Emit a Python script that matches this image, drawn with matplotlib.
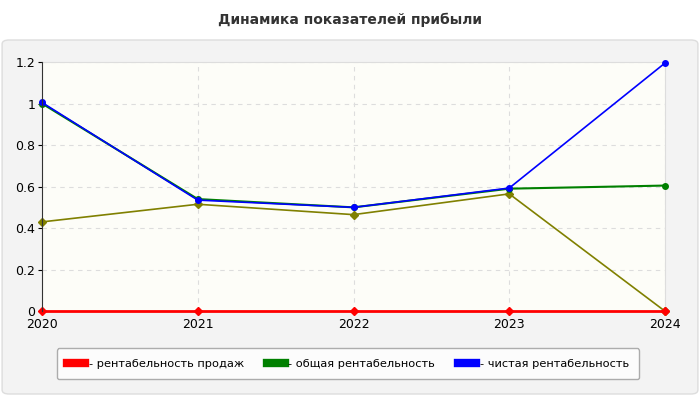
import matplotlib
matplotlib.use("Agg")
import matplotlib.pyplot as plt
from matplotlib.patches import FancyBboxPatch

years = ["2020", "2021", "2022", "2023", "2024"]
sales = [0, 0, 0, 0, 0]
total = [1.0, 0.54, 0.5, 0.59, 0.605]
net = [1.005, 0.535, 0.5, 0.593, 1.195]
other = [0.43, 0.515, 0.465, 0.565, 0.0]

fig = plt.figure(figsize=(7, 4), dpi=100)
fig.patch.set_facecolor("white")
fig.patches.append(FancyBboxPatch((0.003, 0.015), 0.994, 0.885, boxstyle="round,pad=0,rounding_size=0.01",
                                  transform=fig.transFigure, facecolor="#f3f3f3", edgecolor="#dddddd", zorder=-10))
fig.text(0.5, 0.95, "Динамика показателей прибыли", ha="center", va="center", fontsize=10, fontweight="bold", color="#333333")

ax = fig.add_axes([0.06, 0.222, 0.89, 0.623])
ax.set_facecolor("#fdfdf8")
x = range(len(years))
ax.plot(x, other, color="#808000", lw=1.2, marker="D", ms=4, zorder=3, clip_on=False)
ax.plot(x, sales, color="#ff0000", lw=2, marker="D", ms=4, label="- рентабельность продаж", zorder=4, clip_on=False)
ax.plot(x, total, color="#008000", lw=1.5, marker="o", ms=4, label="- общая рентабельность", zorder=4, clip_on=False)
ax.plot(x, net, color="#0000ff", lw=1.2, marker="o", ms=4, label="- чистая рентабельность", zorder=5, clip_on=False)
ax.set_xlim(0, 4)
ax.set_ylim(0, 1.2)
ax.set_xticks(list(x))
ax.set_xticklabels(years)
ax.set_yticks([0, 0.2, 0.4, 0.6, 0.8, 1.0, 1.2])
ax.set_yticklabels(["0", "0.2", "0.4", "0.6", "0.8", "1", "1.2"])
ax.tick_params(labelsize=9, length=3, pad=2)
ax.grid(True, ls=(0, (4, 4)), color="#dddddd", lw=0.8)
for s in ["top", "right"]:
    ax.spines[s].set_color("#dddddd")
ax.spines["bottom"].set_color("#dddddd")
ax.spines["left"].set_color("#333333")
for sp in ax.spines.values():
    sp.set_linewidth(0.8)
ax.spines["left"].set_zorder(6)

h, l = ax.get_legend_handles_labels()
leg = fig.legend(h, l, loc="center", bbox_to_anchor=(0.497, 0.091), ncol=3, fontsize=8.2,
                 frameon=True, fancybox=True, edgecolor="#999999", handlelength=1.6,
                 borderpad=0.9, columnspacing=2.0, handletextpad=0.3)
leg.get_frame().set_facecolor("white")
for hh in leg.legend_handles:
    hh.set_marker(""); hh.set_linewidth(6)
fig.savefig("out.png", dpi=100)
